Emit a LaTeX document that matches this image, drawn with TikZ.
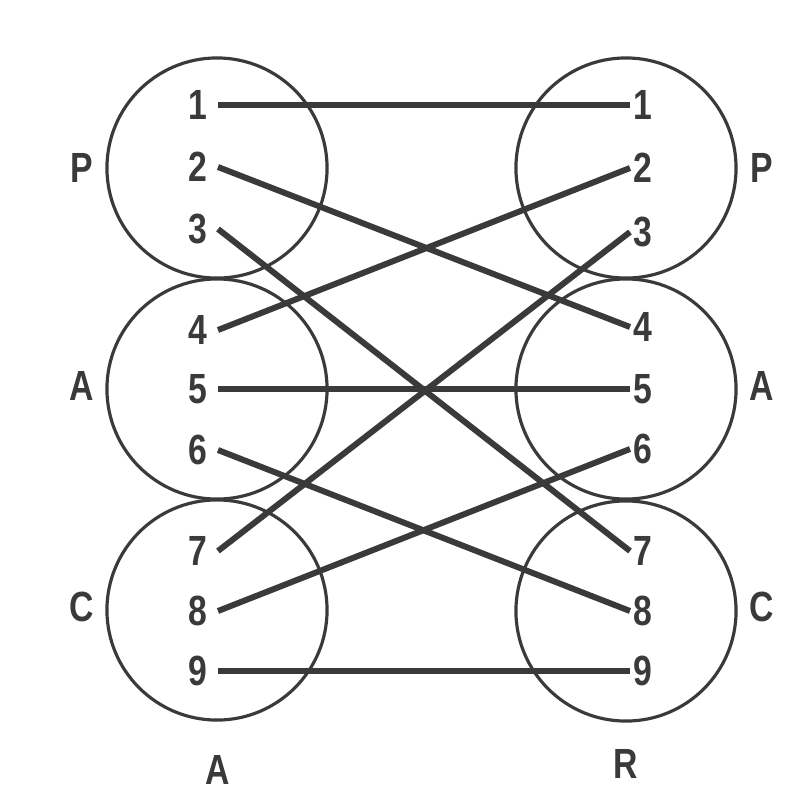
\documentclass[tikz,border=0pt]{standalone}
\usepackage{fontspec}
\usepackage{tikz}
\usetikzlibrary{positioning}
\newfontfamily\lblfont{Liberation Sans}[FakeStretch=0.8]
\definecolor{InkGray}{RGB}{58,58,58}

\begin{document}
\begin{tikzpicture}[
    x=0.01cm,
    y=-0.01cm,
    font=\lblfont\bfseries\fontsize{12}{14}\selectfont,
    ring/.style={
        circle,
        draw=InkGray,
        line width=0.9pt,
        minimum size=2.2cm,
        inner sep=0pt
    },
    num/.style={text=InkGray, inner ysep=0pt},
    lnum/.style={num, anchor=east, inner xsep=0.1cm},
    rnum/.style={num, anchor=west, inner xsep=0.03cm},
    tag/.style={text=InkGray},
    link/.style={draw=InkGray, line width=1.7pt}
]
\useasboundingbox (0,0) rectangle (799,802);

% circles
\node[ring] (lP) at (217,168) {};
\node[ring] (lA) at (217,389) {};
\node[ring] (lC) at (217,610) {};
\node[ring] (rP) at (626,168) {};
\node[ring] (rA) at (626,389) {};
\node[ring] (rC) at (626,611) {};

% group letters
\node[tag] (tlP) at (82,168) {P};
\node[tag] (tlA) at (82,386) {A};
\node[tag] (tlC) at (82,607) {C};
\node[tag] (trP) at (762,168) {P};
\node[tag] (trA) at (762,386) {A};
\node[tag] (trC) at (762,607) {C};
\node[tag] (bA) at (218,770) {A};
\node[tag] (bR) at (626,764) {R};

% left numbers
\node[lnum] (l1) at (218,105) {1};
\node[lnum] (l2) at (218,167) {2};
\node[lnum] (l3) at (218,229) {3};
\node[lnum] (l4) at (218,330) {4};
\node[lnum] (l5) at (218,389) {5};
\node[lnum] (l6) at (218,450) {6};
\node[lnum] (l7) at (218,551) {7};
\node[lnum] (l8) at (218,611) {8};
\node[lnum] (l9) at (218,671) {9};

% right numbers
\node[rnum] (r1) at (630,105) {1};
\node[rnum] (r2) at (630,168) {2};
\node[rnum] (r3) at (630,232) {3};
\node[rnum] (r4) at (630,327) {4};
\node[rnum] (r5) at (630,389) {5};
\node[rnum] (r6) at (630,449) {6};
\node[rnum] (r7) at (630,551) {7};
\node[rnum] (r8) at (630,611) {8};
\node[rnum] (r9) at (630,671) {9};

\draw[link] (l1.east) -- (r1.west);
\draw[link] (l2.east) -- (r4.west);
\draw[link] (l3.east) -- (r7.west);
\draw[link] (l4.east) -- (r2.west);
\draw[link] (l5.east) -- (r5.west);
\draw[link] (l6.east) -- (r8.west);
\draw[link] (l7.east) -- (r3.west);
\draw[link] (l8.east) -- (r6.west);
\draw[link] (l9.east) -- (r9.west);

\end{tikzpicture}
\end{document}
